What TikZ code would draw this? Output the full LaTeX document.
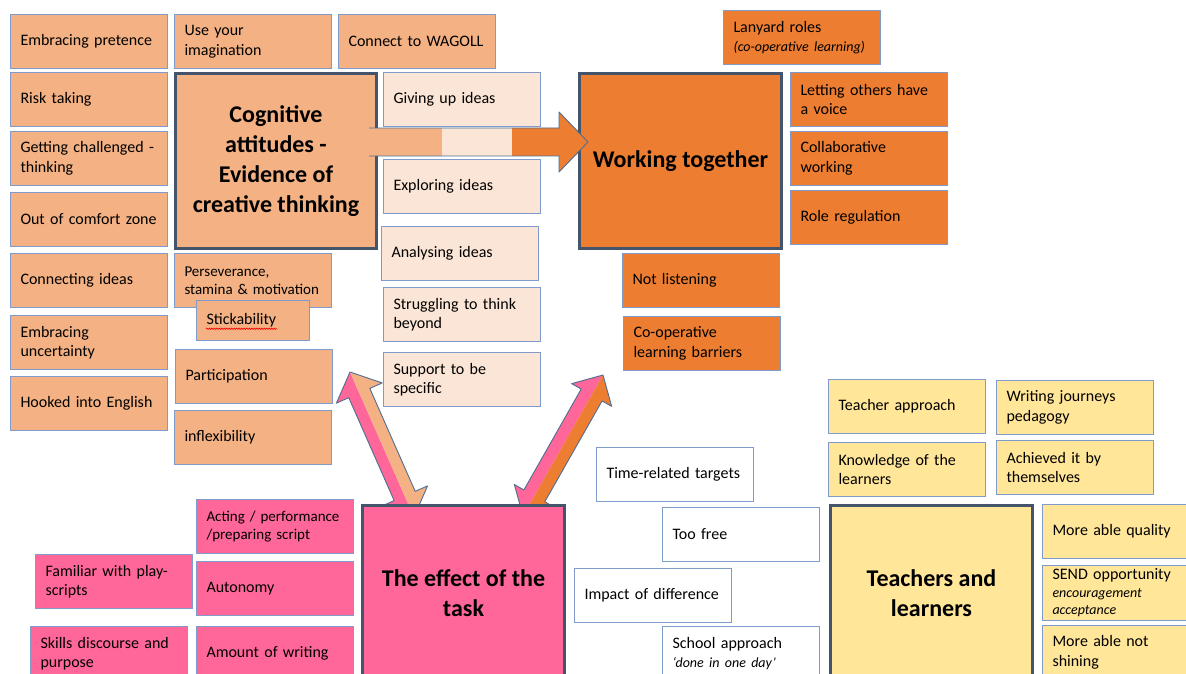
\documentclass[tikz,border=0pt]{standalone}
\usepackage{fontspec}
\setmainfont{Carlito}
\usetikzlibrary{calc, decorations.pathmorphing}

\definecolor{peach}{HTML}{F4B183}
\definecolor{cream}{HTML}{FBE5D6}
\definecolor{tangerine}{HTML}{ED7D31}
\definecolor{rose}{HTML}{FF6699}
\definecolor{butter}{HTML}{FFE699}
\definecolor{edgeblue}{HTML}{7F9BCB}
\definecolor{slate}{HTML}{44546A}
\definecolor{arrowline}{HTML}{4F6E91}

\newcommand\smallnote[1]{{\fontsize{14}{17}\selectfont\itshape #1}}

\tikzset{
  card/.style={draw=edgeblue, line width=1pt, anchor=north west, minimum width=157pt,
    minimum height=54pt, text width=137pt, inner xsep=10pt, align=left,
    font=\fontsize{16}{19.5}\selectfont},
  smallcard/.style={card, font=\fontsize{15}{18.5}\selectfont},
  hub/.style={draw=slate, line width=3pt, anchor=north west, minimum width=202pt,
    minimum height=175pt, align=center, font=\fontsize{24}{30}\selectfont\bfseries},
  blockline/.style={draw=arrowline, line width=0.9pt, line join=round},
}

\begin{document}
\begin{tikzpicture}[x=1pt, y=-1pt]
    \clip (0,0) rectangle (1186,674);
    \fill[white] (0,0) rectangle (1186,674);

    % Double arrows from the task
    \begin{scope}[shift={(350,372)}, rotate=-66.2]
      \fill[rose] (0,0) -- (23,25) -- (23,11.5) -- (135.5,11.5) -- (135.5,25) -- (158.5,0) -- cycle;
      \fill[peach] (0,0) -- (23,-25) -- (23,-11.5) -- (135.5,-11.5) -- (135.5,-25) -- (158.5,0) -- cycle;
      \draw[blockline] (0,0) -- (23,25) -- (23,11.5) -- (135.5,11.5) -- (135.5,25) -- (158.5,0)
        -- (135.5,-25) -- (135.5,-11.5) -- (23,-11.5) -- (23,-25) -- cycle;
    \end{scope}
    \begin{scope}[shift={(603,375)}, rotate=-119.6]
      \fill[rose] (0,0) -- (23,23) -- (23,12) -- (139,12) -- (139,23) -- (162,0) -- cycle;
      \fill[tangerine] (0,0) -- (23,-23) -- (23,-12) -- (139,-12) -- (139,-23) -- (162,0) -- cycle;
      \draw[blockline] (0,0) -- (23,23) -- (23,12) -- (139,12) -- (139,23) -- (162,0)
        -- (139,-23) -- (139,-12) -- (23,-12) -- (23,-23) -- cycle;
    \end{scope}

    % Cognitive attitudes
    \node[card, fill=peach] (pretence) at (10,14) {Embracing pretence};
    \node[card, fill=peach] (imagine) at (174,14) {Use your\\imagination};
    \node[card, fill=peach] (wagoll) at (338,14) {Connect to WAGOLL};
    \node[card, fill=peach] (risk) at (10,72) {Risk taking};
    \node[card, fill=peach] (challenged) at (10,131) {Getting challenged -\\thinking};
    \node[card, fill=peach] (comfort) at (10,192) {Out of comfort zone};
    \node[card, fill=peach] (connecting) at (10,253) {Connecting ideas};
    \node[card, fill=peach] (uncertainty) at (10,315) {Embracing\\uncertainty};
    \node[card, fill=peach] (hooked) at (10,376) {Hooked into English};
    \node[hub, fill=peach, minimum width=201pt] (cognitive) at (174,72)
        {Cognitive\\attitudes -\\Evidence of\\creative thinking};
    \node[smallcard, fill=peach] (persevere) at (174,253) {Perseverance,\\stamina \& motivation};
    \node[card, fill=peach, minimum width=113pt, minimum height=40pt, text width=93pt] (stick) at (196,300) {Stickability};
    \node[card, fill=peach] (participation) at (175,349) {Participation};
    \node[card, fill=peach] (inflex) at (174,410) {inflexibility};
    \node[card, fill=cream] (giveup) at (383,72) {Giving up ideas};
    \node[card, fill=cream] (exploring) at (383,159) {Exploring ideas};
    \node[card, fill=cream] (analysing) at (381,226) {Analysing ideas};
    \node[card, fill=cream] (struggling) at (383,287) {Struggling to think\\beyond};
    \node[card, fill=cream] (support) at (383,352) {Support to be\\specific};

    % Working together
    \node[hub, fill=tangerine] (working) at (578,72) {Working together};
    \node[card, fill=tangerine] (lanyard) at (723,10) {Lanyard roles\\\smallnote{(co-operative learning)}};
    \node[card, fill=tangerine] (voice) at (790,72) {Letting others have\\a voice};
    \node[card, fill=tangerine] (collab) at (790,131) {Collaborative\\working};
    \node[card, fill=tangerine] (roles) at (790,190) {Role regulation};
    \node[card, fill=tangerine] (listening) at (622,253) {Not listening};
    \node[card, fill=tangerine] (barriers) at (623,316) {Co-operative\\learning barriers};

    % The effect of the task
    \node[hub, fill=rose] (task) at (361,504) {The effect of the\\task};
    \node[smallcard, fill=rose] (acting) at (196,499) {Acting / performance\\/preparing script};
    \node[card, fill=rose] (autonomy) at (196,561) {Autonomy};
    \node[card, fill=rose] (amount) at (196,626) {Amount of writing};
    \node[card, fill=rose] (familiar) at (35,554) {Familiar with play-\\scripts};
    \node[card, fill=rose] (skills) at (30,626) {Skills discourse and\\purpose};
    \node[card, fill=white] (targets) at (596,447) {Time-related targets};
    \node[card, fill=white] (toofree) at (662,507) {Too free};
    \node[card, fill=white] (impact) at (574,568) {Impact of difference};
    \node[card, fill=white, font=\fontsize{16}{18.5}\selectfont] (school) at (662,626) {School approach\\\smallnote{‘done in one day’}};

    % Teachers and learners
    \node[hub, fill=butter] (teachers) at (829,504) {Teachers and\\learners};
    \node[card, fill=butter] (approach) at (828,379) {Teacher approach};
    \node[card, fill=butter] (journeys) at (996,380) {Writing journeys\\pedagogy};
    \node[card, fill=butter] (knowledge) at (828,442) {Knowledge of the\\learners};
    \node[card, fill=butter] (achieved) at (996,440) {Achieved it by\\themselves};
    \node[card, fill=butter] (quality) at (1042,504) {More able quality};
    \node[card, fill=butter, font=\fontsize{16}{17.5}\selectfont] (send) at (1042,565) {SEND opportunity\\\smallnote{encouragement}\\\smallnote{acceptance}};
    \node[card, fill=butter] (shining) at (1042,625) {More able not\\shining};

    % Arrow into working together
    \fill[peach] (369,128) rectangle (442,156);
    \fill[cream] (442,128) rectangle (512,156);
    \fill[tangerine] (512,128) -- (559,128) -- (559,112) -- (588,142) -- (559,172) -- (559,156) -- (512,156) -- cycle;
    \draw[blockline] (369,128) -- (559,128) -- (559,112) -- (588,142) -- (559,172) -- (559,156) -- (369,156);

    \draw[red, line width=0.6pt, decorate, decoration={snake, amplitude=0.7pt, segment length=2.5pt}]
        ($(stick.base west)+(10,4)$) -- ($(stick.base west)+(81,4)$);
\end{tikzpicture}
\end{document}
